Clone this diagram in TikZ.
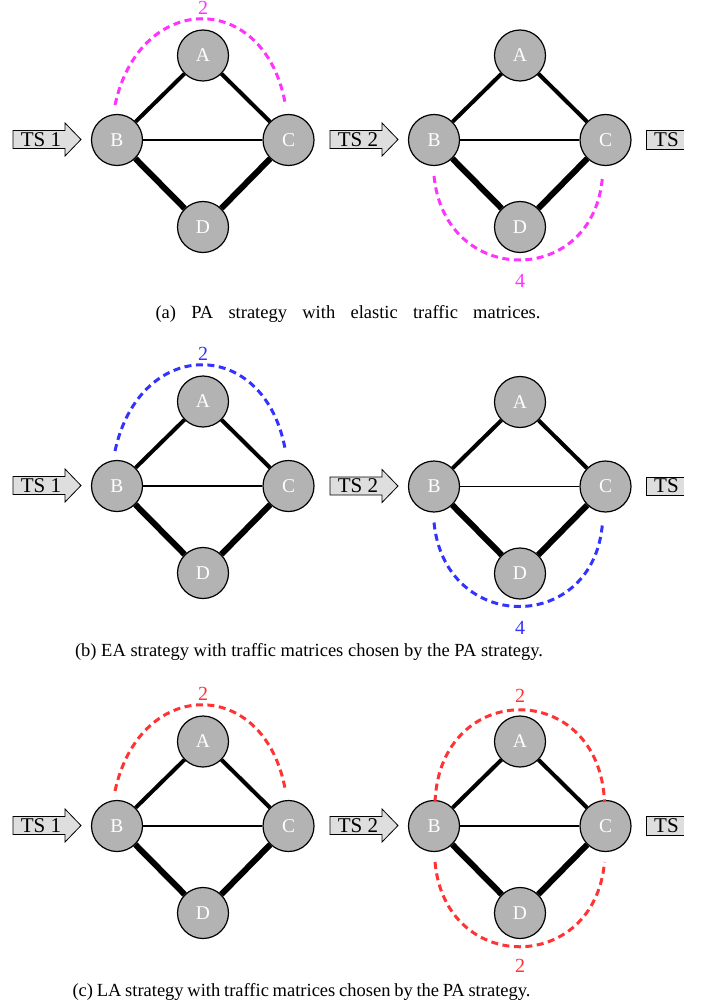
\documentclass[tikz,border=0pt]{standalone}
\usepackage{fontspec}
\setmainfont{Liberation Serif}
\usetikzlibrary{calc,backgrounds}
\definecolor{pinkc}{RGB}{255,51,255}
\definecolor{bluec}{RGB}{51,51,255}
\definecolor{redc}{RGB}{255,51,51}
\definecolor{nodegray}{RGB}{179,179,179}
\definecolor{tsgray}{RGB}{222,222,222}
\tikzset{
  vertex/.style={circle, draw=black, line width=1.2pt, fill=nodegray, minimum size=51pt, inner sep=0pt, text=white, font=\fontsize{19.5}{19.5}\selectfont},
  thinedge/.style={line width=1.6pt},
  midedge/.style={line width=4pt},
  thickedge/.style={line width=6pt},
  flow/.style={line width=3pt, dash pattern=on 7pt off 4.5pt},
  tsarrow/.style={draw=black, line width=0.8pt, fill=tsgray},
  tslabel/.style={font=\fontsize{21}{21}\selectfont, inner sep=0pt},
  numlabel/.style={font=\fontsize{20}{20}\selectfont, inner sep=0pt},
  capt/.style={font=\fontsize{18.5}{20}\selectfont, inner sep=0pt, anchor=base},
}
% #1 prefix, #2 Bx, #3 By, #4 arrow text
\newcommand\netgraph[4]{%
  \node[vertex] (#1B) at (#2,#3) {B};
  \node[vertex] (#1A) at ({#2+86},{#3-84.5}) {A};
  \node[vertex] (#1C) at ({#2+171.5},{#3}) {C};
  \node[vertex] (#1D) at ({#2+86},{#3+87}) {D};
  \begin{scope}[on background layer]
    \draw[midedge] (#1B) -- (#1A);
    \draw[midedge] (#1A) -- (#1C);
    \draw[thinedge] (#1B) -- (#1C);
    \draw[thickedge] (#1B) -- (#1D);
    \draw[thickedge] (#1D) -- (#1C);
  \end{scope}
  \draw[tsarrow] ({#2-104},{#3-9.5}) -- ({#2-52},{#3-9.5}) -- ({#2-52},{#3-17})
     -- ({#2-36},{#3-0.5}) -- ({#2-52},{#3+16}) -- ({#2-52},{#3+8.5}) -- ({#2-104},{#3+8.5}) -- cycle;
  \node[tslabel] (#1ts) at ({#2-76},{#3-0.5}) {#4};
}
\newcommand\upflow[3]{% prefix, colour, label
  \draw[flow, #2] ($(#1B)+(-2,-35)$) .. controls ($(#1B)+(23,-150)$) and ($(#1C)+(-23,-150)$) .. ($(#1C)+(-3,-35)$);
  \node[numlabel, text=#2] (#1up) at ($(#1A)+(0,-47.5)$) {#3};
}
\newcommand\downflow[3]{% prefix, colour, label
  \draw[flow, #2] ($(#1B)+(0,36)$) .. controls ($(#1B)+(11,148)$) and ($(#1C)+(-11,148)$) .. ($(#1C)+(-3,36)$);
  \node[numlabel, text=#2] (#1dn) at ($(#1D)+(0,54)$) {#3};
}
\newcommand\tsbox[2]{% prefix, y
  \fill[tsgray] (646,{#2-9.5}) rectangle (684,{#2+9});
  \draw[line width=0.8pt] (684,{#2-9.5}) -- (646,{#2-9.5}) -- (646,{#2+9}) -- (684,{#2+9});
  \node[tslabel, anchor=west] (#1) at (654,{#2-0.5}) {TS};
}
\begin{document}
\begin{tikzpicture}[x=1pt, y=-1pt]
\useasboundingbox (0,0) rectangle (702,1008);
% (a)
\netgraph{aL}{117}{140}{TS 1}
\netgraph{aR}{434}{140}{TS 2}
\tsbox{aTS}{140}
\upflow{aL}{pinkc}{2}
\downflow{aR}{pinkc}{4}
\node[capt] (capa) at (348,318.5) {\makebox[385pt][s]{(a) PA strategy with elastic traffic matrices.}};
% (b)
\netgraph{bL}{117}{486}{TS 1}
\netgraph{bR}{434}{486.5}{TS 2}
\tsbox{bTS}{486.5}
\upflow{bL}{bluec}{2}
\downflow{bR}{bluec}{4}
\node[capt] (capb) at (309,656.5) {\makebox[468pt][s]{(b) EA strategy with traffic matrices chosen by the PA strategy.}};
% (c)
\netgraph{cL}{117}{826}{TS 1}
\netgraph{cR}{434}{826}{TS 2}
\tsbox{cTS}{826}
\upflow{cL}{redc}{2}
\draw[flow, redc] ($(cRB)+(1,-24)$) .. controls ($(cRB)+(6,-147)$) and ($(cRC)+(-6,-147)$) .. ($(cRC)+(-1,-24)$);
\node[numlabel, text=redc] (cRup) at ($(cRA)+(0,-46)$) {2};
\draw[flow, redc] ($(cRB)+(1,36)$) .. controls ($(cRB)+(11,149)$) and ($(cRC)+(-11,149)$) .. ($(cRC)+(-1,36)$);
\node[numlabel, text=redc] (cRdn) at ($(cRD)+(0,53)$) {2};
\node[capt] (capc) at (301.5,996.5) {\makebox[458pt][s]{(c) LA strategy with traffic matrices chosen by the PA strategy.}};
\end{tikzpicture}
\end{document}
